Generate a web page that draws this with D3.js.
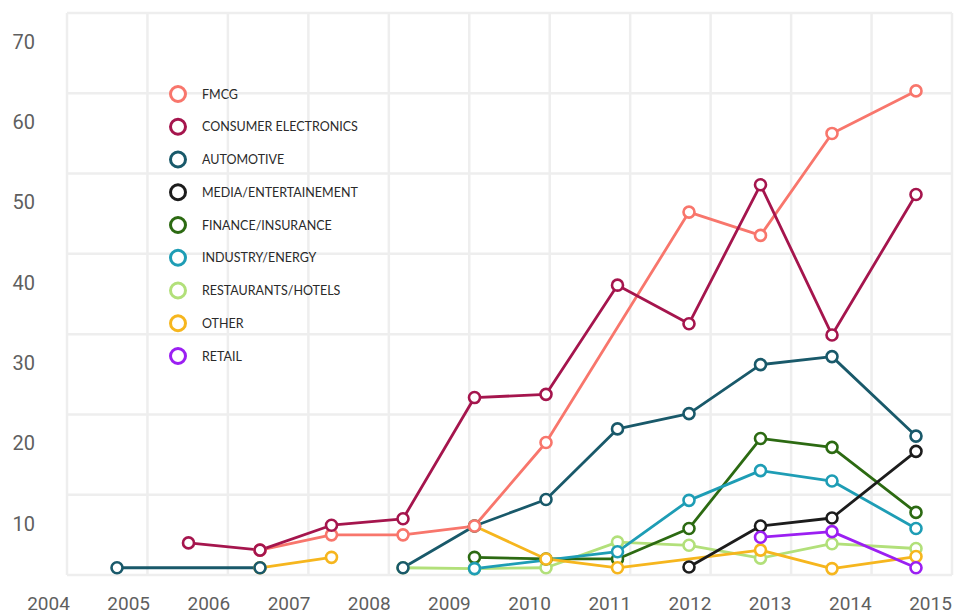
<!DOCTYPE html>
<html>
<head>
<meta charset="utf-8">
<script src="https://cdn.jsdelivr.net/npm/d3@7"></script>
<style>
  html, body { margin: 0; padding: 0; background: #ffffff; }
  svg { display: block; }
</style>
</head>
<body>
<svg id="chart" width="954" height="614"></svg>
<script>
// ---------------- DATA ----------------
const years = [2004, 2005, 2006, 2007, 2008, 2009, 2010, 2011, 2012, 2013, 2014, 2015];
const yTickValues = [10, 20, 30, 40, 50, 60, 70];
const gridValues = [0, 10, 20, 30, 40, 50, 60, 70];

const categories = ["FMCG", "CONSUMER ELECTRONICS", "AUTOMOTIVE", "MEDIA/ENTERTAINEMENT",
  "FINANCE/INSURANCE", "INDUSTRY/ENERGY", "RESTAURANTS/HOTELS", "OTHER", "RETAIL"];
const colors = ["#f8766c", "#a5154d", "#19596a", "#1c1c1c", "#2c6a12", "#1e9db5", "#b2e07a", "#f6b61e", "#9b1ff2"];

const fmcg                = [null, null, 3.1, 5.0, 5.0, 6.1, 16.5, null, 45.2, 42.3, 55.0, 60.3];
const consumerElectronics = [null, 4.0, 3.1, 6.2, 7.0, 22.1, 22.5, 36.1, 31.3, 48.6, 29.9, 47.4];
const automotive          = [0.9, null, 0.9, null, 0.9, 6.1, 9.4, 18.2, 20.1, 26.2, 27.2, 17.3];
const mediaEntertainment  = [null, null, null, null, null, null, null, null, 1.0, 6.1, 7.1, 15.4];
const financeInsurance    = [null, null, null, null, null, 2.2, 2.0, 2.0, 5.8, 17.0, 15.9, 7.8];
const industryEnergy      = [null, null, null, null, null, 0.8, null, 2.9, 9.3, 13.0, 11.7, 5.8];
const restaurantsHotels   = [null, null, null, null, 0.9, 0.8, 0.9, 4.1, 3.7, 2.1, 3.9, 3.3];
const other               = [null, null, 0.9, 2.2, null, 6.1, 2.0, 0.9, null, 3.1, 0.8, 2.3];
const retail              = [null, null, null, null, null, null, null, null, null, 4.7, 5.4, 0.9];

// line is interrupted before these years
const lineBreaks = [["AUTOMOTIVE", 2008], ["OTHER", 2009]];

const seriesValues = [fmcg, consumerElectronics, automotive, mediaEntertainment,
  financeInsurance, industryEnergy, restaurantsHotels, other, retail];

// drawing order (bottom to top)
const drawOrder = ["RESTAURANTS/HOTELS", "FINANCE/INSURANCE", "INDUSTRY/ENERGY", "OTHER",
  "AUTOMOTIVE", "FMCG", "CONSUMER ELECTRONICS", "MEDIA/ENTERTAINEMENT", "RETAIL"];

// ---------------- LAYOUT ----------------
const svg = d3.select("#chart");
const plotTop = 13, plotBottom = 575, plotLeft = 67, plotRight = 952;

const y = d3.scaleLinear().domain([0, 70]).range([plotBottom, plotTop]);
const xData = d3.scaleLinear().domain([2004, 2014, 2015]).range([117, 832, 916]);
const xLabel = d3.scaleLinear().domain([2004, 2015]).range([48, 930]);
const xGrid = d3.scaleLinear().domain([2004, 2015]).range([plotLeft, plotRight]);

// grid
const grid = svg.append("g").attr("class", "grid");
grid.selectAll("line.h").data(gridValues).join("line")
  .attr("class", "h")
  .attr("x1", plotLeft).attr("x2", plotRight)
  .attr("y1", d => y(d)).attr("y2", d => y(d))
  .attr("stroke", "#eeeeee").attr("stroke-width", 2.5);
grid.selectAll("line.v").data(years).join("line")
  .attr("class", "v")
  .attr("x1", d => xGrid(d)).attr("x2", d => xGrid(d))
  .attr("y1", plotTop).attr("y2", plotBottom)
  .attr("stroke", "#eeeeee").attr("stroke-width", 2.5);

// y axis
const yAxis = svg.append("g")
  .attr("transform", "translate(35,0)")
  .call(d3.axisLeft(y).tickValues(yTickValues).tickSize(0).tickPadding(0));
yAxis.select(".domain").remove();
yAxis.selectAll("text")
  .attr("transform", "translate(0,29)")
  .attr("fill", "#5f5f5f")
  .style("font-family", "Roboto, sans-serif")
  .style("font-size", "20px");

// x axis
const xAxis = svg.append("g")
  .attr("transform", "translate(0,596)")
  .call(d3.axisBottom(xLabel).tickValues(years).tickFormat(d3.format("d")).tickSize(0).tickPadding(0));
xAxis.select(".domain").remove();
xAxis.selectAll("text")
  .attr("fill", "#5f5f5f")
  .style("font-family", "Roboto, sans-serif")
  .style("font-size", "19px");

// series
const series = categories.map((name, i) => {
  const pts = years.map((yr, j) => ({ yr, v: seriesValues[i][j] })).filter(d => d.v !== null);
  const breaks = lineBreaks.filter(b => b[0] === name).map(b => b[1]);
  const segments = [];
  let cur = [];
  pts.forEach(p => {
    if (breaks.includes(p.yr) && cur.length) { segments.push(cur); cur = []; }
    cur.push(p);
  });
  if (cur.length) segments.push(cur);
  return { name, color: colors[i], pts, segments };
});
const ordered = drawOrder.map(n => series.find(s => s.name === n));

const line = d3.line().x(d => xData(d.yr)).y(d => y(d.v));

const linesG = svg.append("g");
ordered.forEach(s => {
  linesG.selectAll(null).data(s.segments).join("path")
    .attr("d", line)
    .attr("fill", "none")
    .attr("stroke", s.color)
    .attr("stroke-width", 2.8)
    .attr("stroke-linejoin", "round");
});
const markersG = svg.append("g");
ordered.forEach(s => {
  markersG.selectAll(null).data(s.pts).join("circle")
    .attr("cx", d => xData(d.yr)).attr("cy", d => y(d.v))
    .attr("r", 5.5)
    .attr("fill", "#ffffff")
    .attr("stroke", s.color)
    .attr("stroke-width", 2.6);
});

// legend
const legend = svg.append("g").attr("transform", "translate(178,94)");
const item = legend.selectAll("g").data(series).join("g")
  .attr("transform", (d, i) => `translate(0,${i * 32.75})`);
item.append("circle").attr("r", 7.5)
  .attr("fill", "#ffffff").attr("stroke", d => d.color).attr("stroke-width", 3);
item.append("text").attr("x", 24).attr("dy", "0.36em")
  .text(d => d.name)
  .attr("fill", "#2a2a2a")
  .style("font-family", "Lato, sans-serif")
  .style("font-size", "12.5px");
</script>
</body>
</html>
